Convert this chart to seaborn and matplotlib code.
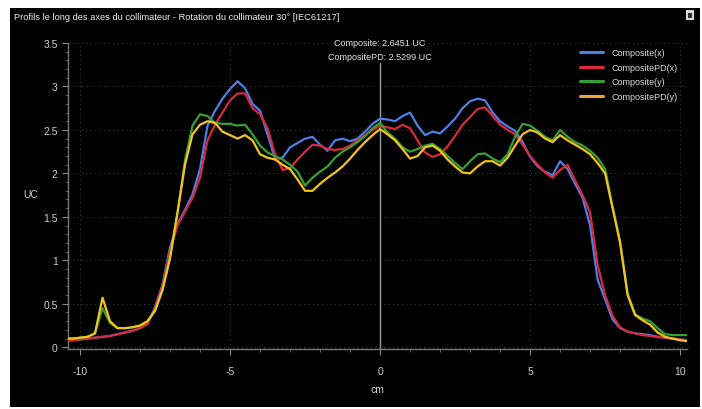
import numpy as np
import pandas as pd
import matplotlib
matplotlib.use("Agg")
import matplotlib.pyplot as plt
from matplotlib.patches import Rectangle
from matplotlib.ticker import MultipleLocator, FuncFormatter
import seaborn as sns

# Position along the collimator axis (cm)
position_cm = [
    -10.4, -10.25, -10.0, -9.75, -9.5, -9.25, -9.0, -8.75, -8.5, -8.25,
    -8.0, -7.75, -7.5, -7.25, -7.0, -6.75, -6.5, -6.25, -6.0, -5.75,
    -5.5, -5.25, -5.0, -4.75, -4.5, -4.25, -4.0, -3.75, -3.5, -3.25,
    -3.0, -2.75, -2.5, -2.25, -2.0, -1.75, -1.5, -1.25, -1.0, -0.75,
    -0.5, -0.25, 0.0, 0.25, 0.5, 0.75, 1.0, 1.25, 1.5, 1.75,
    2.0, 2.25, 2.5, 2.75, 3.0, 3.25, 3.5, 3.75, 4.0, 4.25,
    4.5, 4.75, 5.0, 5.25, 5.5, 5.75, 6.0, 6.25, 6.5, 6.75,
    7.0, 7.25, 7.5, 7.75, 8.0, 8.25, 8.5, 8.75, 9.0, 9.25,
    9.5, 9.75, 10.0, 10.25,
]

composite_x = [
    0.08, 0.08, 0.09, 0.10, 0.11, 0.12, 0.13, 0.15, 0.17, 0.19,
    0.22, 0.27, 0.46, 0.72, 1.15, 1.42, 1.58, 1.76, 2.05, 2.55,
    2.72, 2.86, 2.97, 3.06, 2.98, 2.80, 2.72, 2.45, 2.17, 2.18,
    2.30, 2.35, 2.40, 2.42, 2.33, 2.26, 2.38, 2.40, 2.37, 2.40,
    2.48, 2.57, 2.63, 2.62, 2.60, 2.66, 2.70, 2.55, 2.44, 2.48,
    2.46, 2.54, 2.63, 2.75, 2.83, 2.86, 2.84, 2.70, 2.60, 2.54,
    2.49, 2.36, 2.19, 2.08, 2.02, 1.98, 2.14, 2.05, 1.88, 1.72,
    1.40, 0.78, 0.55, 0.32, 0.22, 0.18, 0.16, 0.15, 0.14, 0.12,
    0.11, 0.10, 0.09, 0.08,
]

composite_pd_x = [
    0.08, 0.08, 0.09, 0.10, 0.11, 0.12, 0.13, 0.15, 0.17, 0.19,
    0.22, 0.27, 0.45, 0.70, 1.12, 1.40, 1.56, 1.72, 1.95, 2.38,
    2.56, 2.70, 2.84, 2.92, 2.92, 2.75, 2.68, 2.52, 2.22, 2.04,
    2.06, 2.16, 2.25, 2.33, 2.32, 2.28, 2.27, 2.28, 2.32, 2.38,
    2.44, 2.50, 2.55, 2.53, 2.51, 2.56, 2.52, 2.38, 2.24, 2.19,
    2.22, 2.31, 2.43, 2.56, 2.65, 2.74, 2.76, 2.66, 2.56, 2.50,
    2.45, 2.33, 2.20, 2.10, 2.01, 1.95, 2.04, 2.10, 1.92, 1.75,
    1.55, 0.95, 0.60, 0.36, 0.23, 0.18, 0.16, 0.14, 0.13, 0.12,
    0.11, 0.10, 0.09, 0.08,
]

composite_y = [
    0.10, 0.10, 0.11, 0.12, 0.16, 0.45, 0.28, 0.22, 0.22, 0.23,
    0.25, 0.30, 0.42, 0.66, 1.05, 1.55, 2.15, 2.55, 2.68, 2.66,
    2.58, 2.57, 2.57, 2.55, 2.56, 2.45, 2.32, 2.24, 2.20, 2.16,
    2.10, 2.02, 1.86, 1.95, 2.02, 2.08, 2.18, 2.25, 2.30, 2.36,
    2.43, 2.52, 2.58, 2.47, 2.40, 2.30, 2.25, 2.28, 2.32, 2.34,
    2.28, 2.20, 2.12, 2.05, 2.14, 2.22, 2.23, 2.17, 2.13, 2.22,
    2.42, 2.57, 2.55, 2.49, 2.42, 2.38, 2.50, 2.42, 2.36, 2.32,
    2.26, 2.18, 2.05, 1.62, 1.22, 0.62, 0.38, 0.33, 0.30, 0.22,
    0.15, 0.14, 0.14, 0.14,
]

composite_pd_y = [
    0.10, 0.10, 0.11, 0.12, 0.16, 0.57, 0.30, 0.22, 0.22, 0.23,
    0.25, 0.30, 0.42, 0.66, 1.02, 1.55, 2.10, 2.45, 2.56, 2.60,
    2.58, 2.48, 2.44, 2.40, 2.44, 2.38, 2.22, 2.18, 2.16, 2.10,
    2.05, 1.93, 1.80, 1.80, 1.88, 1.95, 2.01, 2.08, 2.17, 2.27,
    2.36, 2.44, 2.51, 2.45, 2.38, 2.28, 2.17, 2.20, 2.30, 2.32,
    2.26, 2.16, 2.08, 2.01, 2.00, 2.08, 2.14, 2.14, 2.09, 2.18,
    2.32, 2.45, 2.50, 2.47, 2.40, 2.36, 2.44, 2.38, 2.33, 2.28,
    2.22, 2.12, 2.00, 1.60, 1.20, 0.60, 0.37, 0.31, 0.26, 0.17,
    0.12, 0.10, 0.08, 0.07,
]

series_names = ["Composite(x)", "CompositePD(x)", "Composite(y)", "CompositePD(y)"]
series_colors = ["#4f7fe6", "#d82a3c", "#36a032", "#f2c21e"]
legend_colors = ["#4f7fe6", "#d82a3c", "#36a032", "#f3a23a"]

title_text = "Profils le long des axes du collimateur - Rotation du collimateur 30° [IEC61217]"
readout_lines = ["Composite: 2.6451 UC", "CompositePD: 2.5299 UC"]

df = pd.DataFrame({
    "cm": position_cm,
    series_names[0]: composite_x,
    series_names[1]: composite_pd_x,
    series_names[2]: composite_y,
    series_names[3]: composite_pd_y,
})
long_df = df.melt(id_vars="cm", var_name="profil", value_name="UC")

sns.set_theme(style="dark")
plt.rcParams["font.family"] = ["Liberation Sans", "DejaVu Sans"]

W, H = 702, 410
fig = plt.figure(figsize=(W / 100, H / 100), dpi=100, facecolor="white")

# dark panel behind the plot area
fig.patches.append(Rectangle((10 / W, 2 / H), 690 / W, 399 / H,
                             transform=fig.transFigure, facecolor="black",
                             edgecolor="none", zorder=-10))

ax = fig.add_axes([68 / W, (H - 350) / H, (687 - 68) / W, (350 - 44) / H])
ax.set_zorder(1)
ax.set_facecolor("black")

sns.lineplot(data=long_df, x="cm", y="UC", hue="profil",
             hue_order=series_names, palette=series_colors,
             estimator=None, sort=False, linewidth=1.6, ax=ax, legend=False,
             zorder=3)

ax.set_xlim(-10.4, 10.23)
ax.set_ylim(-0.02, 3.5)

ax.xaxis.set_major_locator(MultipleLocator(5))
ax.xaxis.set_minor_locator(MultipleLocator(1))
ax.yaxis.set_major_locator(MultipleLocator(0.5))
ax.yaxis.set_minor_locator(MultipleLocator(0.1))
fmt = FuncFormatter(lambda v, _: f"{v:g}")
ax.xaxis.set_major_formatter(fmt)
ax.yaxis.set_major_formatter(fmt)

ax.tick_params(axis="both", which="major", colors="#8a8a8a", labelcolor="#cfcfcf",
               labelsize=7.5, length=4, width=0.8, direction="out",
               bottom=True, left=True)
ax.tick_params(axis="both", which="minor", colors="#6a6a6a", length=2, width=0.6,
               bottom=True, left=True)
ax.tick_params(axis="x", pad=8)

ax.grid(True, which="major", color="#3a3a3a", linestyle=(0, (1, 3)), linewidth=0.8)
for side in ["top", "right"]:
    ax.spines[side].set_visible(False)
for side in ["left", "bottom"]:
    ax.spines[side].set_visible(True)
    ax.spines[side].set_color("#7a7a7a")
    ax.spines[side].set_linewidth(1.0)

ax.set_xlabel("cm", color="#cfcfcf", fontsize=7.5, labelpad=6)
ax.set_ylabel("UC", color="#cfcfcf", fontsize=7.5, rotation=0, labelpad=0)
ax.yaxis.set_label_coords(-0.06, 0.49)

# cursor line at the centre of the field, stopping below its readout
ax.axvline(0, ymax=(350 - 64) / (350 - 44), color="#9c9c9c", linewidth=1.0, zorder=2)

# cursor readout
for i, line in enumerate(readout_lines):
    fig.text(380 / W, (H - 44 - 14 * i) / H, line, color="#e6e6e6",
             fontsize=6.5, ha="center", va="center", zorder=5)

# legend
handles = [plt.Line2D([0], [0], color=c, linewidth=2.2) for c in legend_colors]
leg = ax.legend(handles, series_names, loc="upper left",
                bbox_to_anchor=((575 - 68) / (687 - 68), 1.0),
                frameon=False, fontsize=6.5, labelcolor="#dcdcdc",
                handlelength=2.5, handletextpad=0.9, labelspacing=0.6,
                borderaxespad=0.2)

# window title and corner icon
fig.text(14 / W, (H - 18) / H, title_text, color="#f0f0f0", fontsize=6.7,
         ha="left", va="center")
fig.patches.append(Rectangle((686 / W, (H - 21) / H), 8 / W, 10 / H,
                             transform=fig.transFigure, facecolor="#d8d8d8",
                             edgecolor="none", zorder=5))
fig.patches.append(Rectangle((688 / W, (H - 19) / H), 4 / W, 5 / H,
                             transform=fig.transFigure, facecolor="#303030",
                             edgecolor="none", zorder=6))

fig.savefig("out.png", dpi=100, facecolor=fig.get_facecolor())
